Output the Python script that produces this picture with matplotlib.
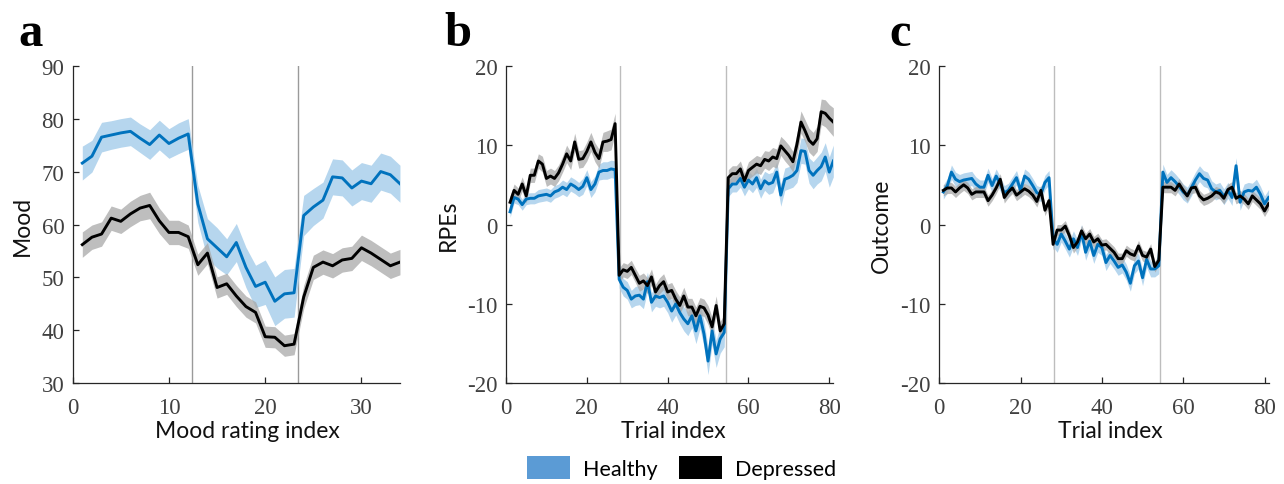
import numpy as np
import matplotlib
matplotlib.use("Agg")
import matplotlib.pyplot as plt
from matplotlib.patches import Patch

plt.rcParams["axes.unicode_minus"] = False

# ---------------- data ----------------
mood_idx = list(range(1, 35))
mood_healthy = [71.6, 72.9, 76.5, 76.9, 77.3, 77.6, 76.3, 75.1, 76.9, 75.3, 76.3, 77.1,
                63.9, 57.3, 55.6, 53.9, 56.6, 51.9, 48.3, 49.1, 45.5, 46.9, 47.1,
                61.7, 63.3, 64.6, 69.0, 68.8, 66.9, 68.2, 67.7, 70.0, 69.4, 67.7]
mood_healthy_sem = [3.2, 3.0, 2.8, 2.7, 2.7, 2.7, 2.7, 2.8, 2.8, 2.8, 2.9, 2.9,
                    3.5, 3.8, 3.8, 3.4, 3.6, 3.8, 4.0, 4.2, 4.6, 4.6, 4.6,
                    3.8, 3.5, 3.4, 3.4, 3.4, 3.4, 3.5, 3.5, 3.5, 3.5, 3.5]
mood_depressed = [56.2, 57.6, 58.2, 61.2, 60.6, 62.0, 63.1, 63.6, 60.7, 58.5, 58.5, 57.7,
                  52.4, 54.6, 48.1, 48.8, 46.5, 44.5, 43.4, 38.8, 38.7, 37.1, 37.4,
                  46.3, 51.9, 52.9, 52.2, 53.3, 53.6, 55.6, 54.6, 53.4, 52.2, 52.9]
mood_depressed_sem = [2.4, 2.3, 2.3, 2.3, 2.3, 2.4, 2.4, 2.5, 2.4, 2.3, 2.3, 2.2,
                      2.0, 2.0, 2.0, 2.0, 2.0, 2.0, 2.0, 2.0, 2.0, 2.0, 2.0,
                      2.2, 2.3, 2.3, 2.3, 2.3, 2.3, 2.4, 2.4, 2.4, 2.4, 2.4]

trial_idx = list(range(1, 82))
rpe_healthy = [1.6, 3.4, 3.2, 2.5, 3.2, 3.3, 3.3, 3.6, 3.7, 3.8, 3.6, 4.1, 4.3, 4.7,
               4.4, 5.1, 4.8, 4.4, 4.8, 5.9, 4.4, 5.1, 6.6, 6.8, 6.8, 7.0, 6.9,
               -6.9, -7.9, -8.3, -9.4, -9.0, -8.9, -9.4, -7.2, -9.8, -9.0, -9.2, -9.0,
               -9.8, -10.9, -10.0, -11.1, -11.9, -12.5, -11.5, -13.4, -11.5, -13.8,
               -17.2, -13.4, -16.3, -14.4, -13.6,
               4.5, 5.1, 5.1, 5.8, 4.7, 5.6, 5.1, 5.9, 4.5, 5.5, 5.1, 5.3, 6.6, 3.7,
               5.7, 5.9, 6.2, 6.8, 9.3, 9.2, 6.8, 6.2, 6.8, 7.3, 8.5, 6.6, 8.0]
rpe_healthy_sem = [0.7, 0.7, 0.7, 0.7, 0.7, 0.7, 0.7, 0.8, 0.8, 0.8, 0.8, 0.8, 0.8, 0.9,
                   0.9, 0.9, 0.9, 0.9, 1.0, 1.0, 1.0, 1.0, 1.0, 1.1, 1.1, 1.1, 1.1,
                   1.1, 1.1, 1.1, 1.1, 1.2, 1.2, 1.2, 1.2, 1.2, 1.3, 1.3, 1.3,
                   1.3, 1.4, 1.4, 1.4, 1.5, 1.5, 1.5, 1.6, 1.6, 1.6,
                   1.7, 1.7, 1.7, 1.8, 1.8,
                   1.0, 1.0, 1.0, 1.1, 1.1, 1.1, 1.1, 1.2, 1.2, 1.2, 1.3, 1.3, 1.3, 1.4,
                   1.4, 1.4, 1.5, 1.5, 1.6, 1.6, 1.6, 1.7, 1.7, 1.8, 1.8, 1.9, 2.0]
rpe_depressed = [2.8, 4.3, 3.8, 5.1, 3.6, 6.2, 6.2, 8.0, 7.6, 5.8, 6.1, 5.8, 6.5, 7.6,
                 8.9, 8.0, 10.4, 8.2, 8.3, 9.2, 10.4, 9.1, 8.3, 10.4, 10.5, 10.7, 12.7,
                 -6.4, -5.7, -5.9, -5.4, -6.4, -7.4, -7.1, -7.7, -6.6, -8.5, -7.7, -7.2,
                 -8.5, -8.3, -9.4, -10.2, -9.0, -10.4, -10.4, -11.5, -10.3, -10.5,
                 -11.4, -12.9, -10.2, -13.4, -12.5,
                 5.9, 6.4, 6.4, 7.0, 5.5, 6.8, 7.2, 7.6, 7.4, 8.2, 8.0, 8.5, 8.3, 9.9,
                 9.3, 8.7, 7.9, 10.1, 12.9, 11.8, 10.6, 10.1, 10.8, 14.2, 14.0, 13.4, 12.9]
rpe_depressed_sem = [0.8, 0.8, 0.8, 0.9, 0.9, 0.9, 0.9, 0.9, 1.0, 1.0, 1.0, 1.0, 1.0, 1.0,
                     1.1, 1.1, 1.1, 1.1, 1.1, 1.2, 1.2, 1.2, 1.2, 1.2, 1.3, 1.3, 1.3,
                     0.9, 0.9, 0.9, 0.9, 0.9, 1.0, 1.0, 1.0, 1.0, 1.0, 1.0, 1.0,
                     1.0, 1.0, 1.1, 1.1, 1.1, 1.1, 1.1, 1.1, 1.1, 1.1,
                     1.2, 1.2, 1.2, 1.2, 1.2,
                     1.0, 1.0, 1.0, 1.0, 1.0, 1.1, 1.1, 1.1, 1.1, 1.1, 1.2, 1.2, 1.2, 1.2,
                     1.3, 1.3, 1.3, 1.4, 1.4, 1.4, 1.5, 1.5, 1.6, 1.6, 1.7, 1.7, 1.8]

out_healthy = [4.1, 4.9, 6.6, 5.7, 5.4, 5.6, 5.7, 5.8, 5.1, 4.7, 4.7, 6.2, 4.9, 6.1,
               5.1, 4.0, 4.3, 5.1, 5.9, 4.3, 6.1, 5.7, 4.9, 4.0, 3.8, 5.3, 5.9,
               -1.8, -2.5, -1.2, -2.1, -3.1, -1.8, -2.9, -1.0, -3.5, -2.1, -3.9, -2.5,
               -2.9, -4.8, -3.9, -4.6, -5.4, -5.1, -6.0, -7.4, -5.2, -4.6,
               -6.7, -4.4, -5.6, -5.6, -5.2,
               6.6, 5.3, 5.9, 5.4, 4.8, 4.1, 3.7, 4.6, 5.6, 6.4, 5.8, 5.6, 4.5, 4.1,
               4.3, 3.5, 4.3, 3.4, 7.4, 2.8, 4.1, 4.3, 4.2, 4.7, 3.8, 2.6, 3.4]
out_healthy_sem = [0.9] * 27 + [1.0] * 27 + [1.0] * 27
out_depressed = [4.3, 4.6, 4.6, 4.1, 4.6, 5.0, 4.6, 3.8, 4.1, 4.1, 4.1, 3.0, 3.7, 4.6,
                 5.7, 3.4, 4.1, 4.6, 3.7, 4.1, 4.5, 4.2, 3.7, 2.9, 4.3, 1.8, 3.0,
                 -2.5, -0.7, -0.7, -0.2, -1.4, -2.9, -2.2, -0.8, -1.8, -1.2, -2.2, -1.8,
                 -2.6, -2.5, -3.0, -3.5, -4.3, -4.3, -3.3, -3.7, -3.9, -2.7,
                 -3.9, -4.1, -3.1, -5.3, -4.5,
                 4.7, 4.7, 4.7, 4.3, 5.1, 4.3, 3.6, 4.6, 4.7, 3.6, 3.1, 3.3, 3.6, 4.1,
                 3.9, 3.3, 4.4, 4.7, 3.3, 3.6, 3.2, 2.6, 3.6, 3.1, 2.6, 1.7, 2.6]
out_depressed_sem = [0.7] * 27 + [0.7] * 27 + [0.7] * 27

mood_vlines = [12.4, 23.45]
trial_vlines = [28.3, 54.4]

# ---------------- style ----------------
C_H = "#0072BD"
C_H_BAND = "#A9CFEB"
C_D = "#000000"
C_D_BAND = "#A8A8A8"
TICK_COL = "#404040"
SPINE_COL = "#262626"
LABEL_FONT = "Lato"
TICK_FONT = "Liberation Serif"

fig = plt.figure(figsize=(12.84, 4.85), dpi=100)

axes_pos = [
    [0.0566, 0.2076, 0.2549, 0.6549],
    [0.3941, 0.2076, 0.2549, 0.6549],
    [0.7315, 0.2076, 0.2565, 0.6549],
]
letter_x = [0.014, 0.346, 0.693]
xlabel_x = [0.535, 0.512, 0.518]

panels = [
    dict(x=mood_idx, h=mood_healthy, hs=mood_healthy_sem, d=mood_depressed, ds=mood_depressed_sem,
         xlim=(0, 34), ylim=(30, 90), xt=[0, 10, 20, 30], yt=[30, 40, 50, 60, 70, 80, 90],
         xl="Mood rating index", yl="Mood", vl=mood_vlines, letter="a", vcol="#9A9A9A"),
    dict(x=trial_idx, h=rpe_healthy, hs=rpe_healthy_sem, d=rpe_depressed, ds=rpe_depressed_sem,
         xlim=(0, 81), ylim=(-20, 20), xt=[0, 20, 40, 60, 80], yt=[-20, -10, 0, 10, 20],
         xl="Trial index", yl="RPEs", vl=trial_vlines, letter="b", vcol="#BDBDBD"),
    dict(x=trial_idx, h=out_healthy, hs=out_healthy_sem, d=out_depressed, ds=out_depressed_sem,
         xlim=(0, 81), ylim=(-20, 20), xt=[0, 20, 40, 60, 80], yt=[-20, -10, 0, 10, 20],
         xl="Trial index", yl="Outcome", vl=trial_vlines, letter="c", vcol="#BDBDBD"),
]

for pos, lx, xlx, p in zip(axes_pos, letter_x, xlabel_x, panels):
    ax = fig.add_axes(pos)
    x = np.array(p["x"])
    h = np.array(p["h"]); hs = np.array(p["hs"])
    d = np.array(p["d"]); ds = np.array(p["ds"])
    for v in p["vl"]:
        ax.axvline(v, color=p["vcol"], lw=1.0, zorder=1)
    ax.fill_between(x, h - hs, h + hs, color=C_H_BAND, lw=0, alpha=0.85, zorder=2)
    ax.fill_between(x, d - ds, d + ds, color=C_D_BAND, lw=0, alpha=0.75, zorder=3)
    ax.plot(x, h, color=C_H, lw=2.1, zorder=4)
    ax.plot(x, d, color=C_D, lw=2.1, zorder=5)
    ax.set_xlim(*p["xlim"]); ax.set_ylim(*p["ylim"])
    ax.set_xticks(p["xt"]); ax.set_yticks(p["yt"])
    for s in ["top", "right"]:
        ax.spines[s].set_visible(False)
    for s in ["left", "bottom"]:
        ax.spines[s].set_color(SPINE_COL)
        ax.spines[s].set_linewidth(0.9)
    ax.tick_params(direction="in", length=4, width=0.9, color=SPINE_COL,
                   labelcolor=TICK_COL, labelsize=16.5, pad=6)
    ax.tick_params(axis="x", pad=10)
    for lab in ax.get_xticklabels() + ax.get_yticklabels():
        lab.set_fontfamily(TICK_FONT)
    ax.set_xlabel(p["xl"], fontfamily=LABEL_FONT, fontsize=16.5, labelpad=1, color="#111111")
    ax.xaxis.label.set_x(xlx)
    ax.set_ylabel(p["yl"], fontfamily=LABEL_FONT, fontsize=16.5, labelpad=6, color="#111111")
    fig.text(lx, 0.975, p["letter"], fontfamily=TICK_FONT, fontweight="bold",
             fontsize=35, va="top", ha="left")

handles = [Patch(facecolor="#5B9BD5", edgecolor="none", label="Healthy"),
           Patch(facecolor="#000000", edgecolor="none", label="Depressed")]
fig.legend(handles=handles, loc="lower center", bbox_to_anchor=(0.531, -0.03), ncol=2,
           frameon=False, prop={"family": LABEL_FONT, "size": 15.5},
           handlelength=2.0, handleheight=1.25, columnspacing=1.0, handletextpad=0.6)

fig.savefig("out.png", dpi=100)
